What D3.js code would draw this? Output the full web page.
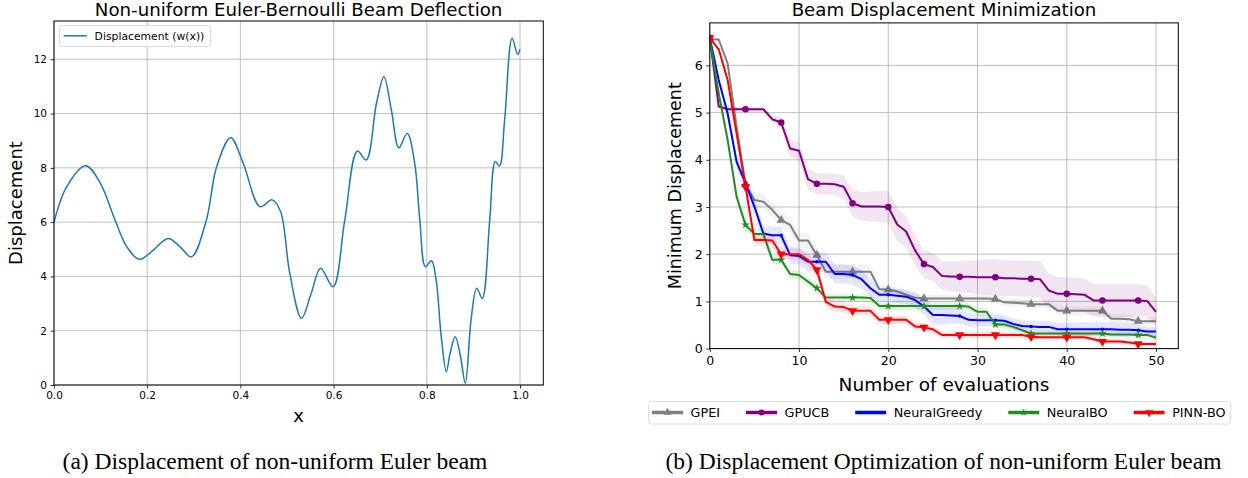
<!DOCTYPE html>
<html><head><meta charset="utf-8">
<script src="https://cdn.jsdelivr.net/npm/d3@7"></script>
<style>body{margin:0;background:#fff;}svg{display:block;}</style>
</head><body>
<svg id="c" width="1248" height="478"></svg>
<script>
// ---------- Data: (a) beam deflection ----------
const beamX = [0,0.027,0.068,0.099,0.131,0.156,0.183,0.213,0.245,0.270,0.295,0.327,0.349,0.379,0.406,0.442,0.468,0.486,0.506,0.531,0.552,0.572,0.599,0.624,0.651,0.670,0.692,0.708,0.724,0.740,0.758,0.774,0.785,0.797,0.810,0.820,0.831,0.842,0.850,0.861,0.8725,0.8826,0.895,0.907,0.919,0.935,0.947,0.956,0.967,0.983,0.995,1.0];
const beamY = [6.0,7.3,8.08,7.45,6.08,5.10,4.63,4.97,5.40,5.10,4.72,6.08,8.04,9.11,8.17,6.57,6.82,6.40,4.11,2.46,3.38,4.30,3.62,6.08,8.62,8.29,10.38,11.36,10.13,8.74,9.27,8.17,6.08,4.36,4.58,3.87,1.78,0.49,1.17,1.78,1.04,0.06,2.40,3.56,3.19,6.08,8.23,8.07,9.76,12.77,12.18,12.37];
const beamXTicks = [0,0.2,0.4,0.6,0.8,1.0];
const beamYTicks = [0,2,4,6,8,10,12];

// ---------- Data: (b) optimization ----------
const evals = [0,1,2,3,4,5,6,7,8,9,10,11,12,13,14,15,16,17,18,19,20,21,22,23,24,25,26,27,28,29,30,31,32,33,34,35,36,37,38,39,40,41,42,43,44,45,46,47,48,49,50];
const seriesNames = ["GPEI","GPUCB","NeuralGreedy","NeuralBO","PINN-BO"];
const gpei = [6.55,6.55,6.04,4.70,3.48,3.15,3.11,2.94,2.72,2.62,
  2.29,2.29,1.98,1.63,1.63,1.63,1.63,1.63,1.63,1.26,
  1.25,1.21,1.14,1.08,1.06,1.06,1.06,1.06,1.06,1.06,
  1.06,1.06,1.05,0.98,0.97,0.96,0.94,0.94,0.94,0.80,
  0.80,0.80,0.80,0.80,0.80,0.63,0.63,0.62,0.58,0.58,
  0.58];
const gpucb = [6.58,5.13,5.07,5.07,5.07,5.07,5.07,4.86,4.79,4.24,
  4.19,3.59,3.49,3.49,3.48,3.43,3.08,3.01,3.01,3.01,
  3.00,2.63,2.48,2.08,1.79,1.73,1.54,1.53,1.52,1.52,
  1.51,1.51,1.51,1.49,1.49,1.48,1.48,1.47,1.23,1.16,
  1.16,1.15,1.14,1.02,1.02,1.02,1.02,1.02,1.02,1.01,
  0.78];
const neuralGreedy = [6.58,5.69,4.98,3.96,3.50,3.01,2.44,2.40,2.40,1.98,
  1.96,1.84,1.84,1.84,1.58,1.58,1.56,1.47,1.28,1.14,
  1.14,1.12,1.10,1.03,0.89,0.71,0.71,0.70,0.69,0.61,
  0.60,0.60,0.60,0.59,0.52,0.48,0.47,0.46,0.46,0.41,
  0.41,0.41,0.41,0.41,0.41,0.41,0.40,0.40,0.39,0.36,
  0.36];
const neuralBO = [6.55,5.41,4.42,3.22,2.62,2.43,2.43,1.88,1.88,1.58,
  1.56,1.42,1.28,1.08,1.08,1.08,1.08,1.08,1.07,0.90,
  0.90,0.90,0.90,0.90,0.90,0.90,0.90,0.90,0.90,0.89,
  0.78,0.78,0.51,0.51,0.46,0.39,0.32,0.32,0.32,0.32,
  0.32,0.32,0.32,0.32,0.32,0.30,0.30,0.30,0.29,0.29,
  0.23];
const pinnBO = [6.58,6.34,5.69,4.56,3.43,2.30,2.30,2.29,2.00,2.00,
  2.00,1.88,1.67,0.99,0.89,0.88,0.80,0.80,0.80,0.61,
  0.61,0.61,0.61,0.47,0.45,0.41,0.29,0.29,0.29,0.29,
  0.29,0.29,0.29,0.29,0.29,0.29,0.25,0.24,0.24,0.24,
  0.24,0.24,0.24,0.20,0.15,0.15,0.15,0.13,0.10,0.10,
  0.10];
// spread (std) of each series
const gpeiStd = [0,0.02,0.06,0.10,0.14,0.15,0.15,0.15,0.15,0.16,
  0.16,0.16,0.16,0.15,0.15,0.15,0.15,0.15,0.14,0.10,
  0.10,0.09,0.09,0.08,0.08,0.08,0.08,0.08,0.08,0.08,
  0.08,0.08,0.08,0.08,0.08,0.08,0.08,0.08,0.08,0.09,
  0.09,0.09,0.09,0.09,0.09,0.09,0.09,0.09,0.09,0.09,
  0.09];
const gpucbStd = [0,0.03,0.05,0.05,0.05,0.05,0.06,0.08,0.12,0.18,
  0.20,0.22,0.22,0.22,0.23,0.24,0.28,0.30,0.32,0.33,
  0.35,0.35,0.33,0.32,0.30,0.30,0.30,0.32,0.33,0.35,
  0.36,0.38,0.38,0.38,0.38,0.38,0.38,0.38,0.36,0.35,
  0.35,0.35,0.35,0.35,0.35,0.35,0.35,0.35,0.35,0.33,
  0.30];
const neuralGreedyStd = [0,0.06,0.10,0.14,0.16,0.17,0.18,0.18,0.18,0.18,
  0.18,0.20,0.20,0.20,0.20,0.20,0.20,0.20,0.18,0.15,
  0.15,0.15,0.15,0.16,0.18,0.20,0.20,0.18,0.16,0.14,
  0.13,0.13,0.13,0.12,0.12,0.12,0.12,0.12,0.12,0.13,
  0.14,0.15,0.15,0.15,0.15,0.15,0.15,0.14,0.12,0.10,
  0.10];
const neuralBOStd = [0,0.06,0.10,0.12,0.12,0.12,0.12,0.10,0.10,0.10,
  0.10,0.10,0.10,0.08,0.08,0.08,0.08,0.08,0.08,0.08,
  0.08,0.08,0.08,0.08,0.08,0.08,0.08,0.08,0.08,0.08,
  0.08,0.08,0.08,0.08,0.08,0.07,0.06,0.06,0.06,0.06,
  0.06,0.06,0.06,0.06,0.06,0.06,0.06,0.06,0.06,0.06,
  0.06];
const pinnBOStd = [0,0.03,0.06,0.10,0.12,0.12,0.12,0.12,0.12,0.12,
  0.12,0.12,0.12,0.12,0.12,0.12,0.10,0.10,0.10,0.09,
  0.09,0.09,0.09,0.08,0.08,0.08,0.07,0.07,0.07,0.07,
  0.07,0.07,0.07,0.07,0.07,0.06,0.06,0.06,0.06,0.06,
  0.06,0.06,0.06,0.06,0.06,0.05,0.05,0.05,0.05,0.05,
  0.05];
const optXTicks = [0,10,20,30,40,50];
const optYTicks = [0,1,2,3,4,5,6];

// ---------- Drawing ----------
const FONT = "'DejaVu Sans', sans-serif";
const svg = d3.select('#c');
const GRID = '#b0b0b0';

function drawFrame(g, xs, ys, xTicks, yTicks, xFmt, tickFont) {
  const [x0, x1] = xs.range(), [y0, y1] = ys.range();
  const grid = g.append('g');
  xTicks.forEach(t => grid.append('line').attr('x1', xs(t)).attr('x2', xs(t)).attr('y1', y1).attr('y2', y0)
    .attr('stroke', GRID).attr('stroke-width', 0.8));
  yTicks.forEach(t => grid.append('line').attr('x1', x0).attr('x2', x1).attr('y1', ys(t)).attr('y2', ys(t))
    .attr('stroke', GRID).attr('stroke-width', 0.8));
  const ax = g.append('g').attr('transform', `translate(0,${y0})`)
    .call(d3.axisBottom(xs).tickValues(xTicks).tickFormat(xFmt).tickSize(3.5).tickPadding(3.5));
  const ay = g.append('g').attr('transform', `translate(${x0},0)`)
    .call(d3.axisLeft(ys).tickValues(yTicks).tickFormat(d3.format('d')).tickSize(3.5).tickPadding(3.5));
  [ax, ay].forEach(a => {
    a.select('.domain').remove();
    a.selectAll('line').attr('stroke', '#000').attr('stroke-width', 0.8);
    a.selectAll('text').attr('font-family', FONT).attr('font-size', tickFont).attr('fill', '#000');
  });
}
function drawSpines(g, xs, ys) {
  const [x0, x1] = xs.range(), [y0, y1] = ys.range();
  g.append('rect').attr('x', x0).attr('y', y1).attr('width', x1 - x0).attr('height', y0 - y1)
    .attr('fill', 'none').attr('stroke', '#000').attr('stroke-width', 1);
}

// ---- Chart (a)
const xA = d3.scaleLinear().domain([0, 1.05]).range([54, 543.3]);
const yA = d3.scaleLinear().domain([0, 13.41]).range([385, 21]);
const gA = svg.append('g');
drawFrame(gA, xA, yA, beamXTicks, beamYTicks, d3.format('.1f'), 10.5);
gA.append('defs').append('clipPath').attr('id', 'clipA').append('rect')
  .attr('x', 54).attr('y', 21).attr('width', 489.3).attr('height', 364);
const beamPts = beamX.map((x, i) => [x, beamY[i]]);
gA.append('path').datum(beamPts).attr('clip-path', 'url(#clipA)')
  .attr('d', d3.line().x(d => xA(d[0])).y(d => yA(d[1])).curve(d3.curveCatmullRom.alpha(0.5)))
  .attr('fill', 'none').attr('stroke', '#1f77b4').attr('stroke-width', 1.5);
drawSpines(gA, xA, yA);
// legend (a)
const legA = gA.append('g');
legA.append('rect').attr('x', 59.5).attr('y', 25.5).attr('width', 151).attr('height', 21).attr('rx', 2.5)
  .attr('fill', 'rgba(255,255,255,0.8)').attr('stroke', '#d6d6d6').attr('stroke-width', 0.8);
legA.append('line').attr('x1', 63.6).attr('x2', 86.8).attr('y1', 35.8).attr('y2', 35.8)
  .attr('stroke', '#1f77b4').attr('stroke-width', 1.5);
legA.append('text').attr('x', 94.6).attr('y', 39.8).attr('font-family', FONT).attr('font-size', 10.8)
  .text('Displacement (w(x))');
// titles / labels (a)
svg.append('text').attr('x', 298.6).attr('y', 15.5).attr('text-anchor', 'middle').attr('font-family', FONT)
  .attr('font-size', 18.2).text('Non-uniform Euler-Bernoulli Beam Deflection');
svg.append('text').attr('x', 298.6).attr('y', 421.5).attr('text-anchor', 'middle').attr('font-family', FONT)
  .attr('font-size', 18).text('x');
svg.append('text').attr('transform', 'translate(22,203) rotate(-90)').attr('text-anchor', 'middle')
  .attr('font-family', FONT).attr('font-size', 18).text('Displacement');

// ---- Chart (b)
const xB = d3.scaleLinear().domain([0, 52.5]).range([709.8, 1178.3]);
const yB = d3.scaleLinear().domain([0, 6.9]).range([348.6, 22.9]);
const gB = svg.append('g');
drawFrame(gB, xB, yB, optXTicks, optYTicks, d3.format('d'), 12.6);
gB.append('defs').append('clipPath').attr('id', 'clipB').append('rect')
  .attr('x', 709.8).attr('y', 22.9).attr('width', 468.5).attr('height', 325.7);

const optSeries = [
  {name: seriesNames[0], vals: gpei, std: gpeiStd, color: '#808080', marker: 'tri', msize: 36},
  {name: seriesNames[1], vals: gpucb, std: gpucbStd, color: '#800080', marker: 'circle', msize: 34},
  {name: seriesNames[2], vals: neuralGreedy, std: neuralGreedyStd, color: '#0000ff', marker: 'dot', msize: 10},
  {name: seriesNames[3], vals: neuralBO, std: neuralBOStd, color: '#228b22', marker: 'star', msize: 22},
  {name: seriesNames[4], vals: pinnBO, std: pinnBOStd, color: '#ff0000', marker: 'tridown', msize: 36},
];
function symPath(m, size) {
  if (m === 'tri' || m === 'tridown') return d3.symbol(d3.symbolTriangle, size)();
  if (m === 'star') return d3.symbol(d3.symbolStar, size)();
  return d3.symbol(d3.symbolCircle, size)();
}
function symRot(m) { return m === 'tridown' ? ' rotate(180)' : ''; }

const plotB = gB.append('g').attr('clip-path', 'url(#clipB)');
optSeries.forEach(s => {
  const pts = evals.map((e, i) => ({x: e, y: s.vals[i], sd: s.std[i]}));
  plotB.append('path').datum(pts)
    .attr('d', d3.area().x(d => xB(d.x)).y0(d => yB(d.y - d.sd)).y1(d => yB(d.y + d.sd)))
    .attr('fill', s.color).attr('fill-opacity', 0.1).attr('stroke', 'none');
  plotB.append('path').datum(pts)
    .attr('d', d3.line().x(d => xB(d.x)).y(d => yB(d.y)))
    .attr('fill', 'none').attr('stroke', s.color).attr('stroke-width', 2).attr('stroke-linejoin', 'round');
  plotB.selectAll(null).data(pts.filter((d, i) => i % 4 === 0)).enter().append('path')
    .attr('transform', d => `translate(${xB(d.x)},${yB(d.y)})` + symRot(s.marker))
    .attr('d', symPath(s.marker, s.msize)).attr('fill', s.color);
});
drawSpines(gB, xB, yB);

svg.append('text').attr('x', 944).attr('y', 15.5).attr('text-anchor', 'middle').attr('font-family', FONT)
  .attr('font-size', 18.2).text('Beam Displacement Minimization');
svg.append('text').attr('x', 944).attr('y', 390.5).attr('text-anchor', 'middle').attr('font-family', FONT)
  .attr('font-size', 18.5).text('Number of evaluations');
svg.append('text').attr('transform', 'translate(681,185.7) rotate(-90)').attr('text-anchor', 'middle')
  .attr('font-family', FONT).attr('font-size', 17.5).text('Minimum Displacement');

// legend (b)
const legB = svg.append('g');
const legBox = legB.append('rect');
let lx = 652;
const ly = 412.5;
optSeries.forEach(s => {
  legB.append('line').attr('x1', lx).attr('x2', lx + 31).attr('y1', ly).attr('y2', ly)
    .attr('stroke', s.color).attr('stroke-width', 3.5);
  legB.append('path').attr('transform', `translate(${lx + 15.5},${ly})` + symRot(s.marker))
    .attr('d', symPath(s.marker, s.msize * 0.8)).attr('fill', s.color);
  const t = legB.append('text').attr('x', lx + 38.5).attr('y', ly + 4.6).attr('font-family', FONT)
    .attr('font-size', 12.8).text(s.name);
  lx += 38.5 + t.node().getComputedTextLength() + 26;
});
legBox.attr('x', 648.5).attr('y', 401.5).attr('width', lx - 26 + 5 - 648.5).attr('height', 22.5).attr('rx', 3)
  .attr('fill', '#fff').attr('stroke', '#d6d6d6').attr('stroke-width', 0.8);

// captions
svg.append('text').attr('x', 275).attr('y', 469).attr('text-anchor', 'middle')
  .attr('font-family', "'Liberation Serif', 'Times New Roman', serif").attr('font-size', 23.5)
  .text('(a) Displacement of non-uniform Euler beam');
svg.append('text').attr('x', 943.5).attr('y', 469).attr('text-anchor', 'middle')
  .attr('font-family', "'Liberation Serif', 'Times New Roman', serif").attr('font-size', 23.5)
  .text('(b) Displacement Optimization of non-uniform Euler beam');
</script>
</body></html>
